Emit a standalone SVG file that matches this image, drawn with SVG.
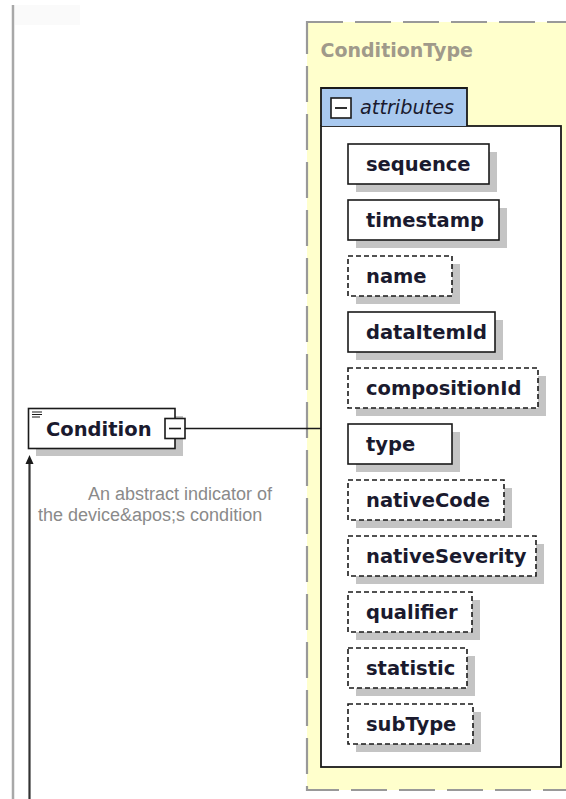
<svg xmlns="http://www.w3.org/2000/svg" width="566" height="799" viewBox="0 0 566 799">
<style>
.shadow{fill:#c4c4c4}
.box{fill:#fff;stroke:#1a1a1a;stroke-width:1.6}
.opt{fill:#fff;stroke:#1a1a1a;stroke-width:1.6;stroke-dasharray:5 3}
.lbl{font-family:"DejaVu Sans",Verdana,sans-serif;font-weight:bold;font-size:19.5px;fill:#1a1a2e}
.desc{font-family:"Liberation Sans",Arial,sans-serif;font-size:18px;fill:#8a8a8a}
</style>
<rect width="566" height="799" fill="#fff"/>
<rect x="15" y="5" width="65" height="20" fill="#fafafa"/>
<line x1="13" y1="5" x2="13" y2="799" stroke="#a8a8a8" stroke-width="2.5"/>

<g id="ConditionType">
<rect x="307" y="22" width="280" height="768" fill="#ffffcc" stroke="#999" stroke-width="2.2" stroke-dasharray="36 12"/>
<text x="320.5" y="57" font-family="'DejaVu Sans',Verdana,sans-serif" font-weight="bold" font-size="19px" fill="#a09a8a">ConditionType</text>
</g>

<g id="attributes">
<rect x="321" y="126" width="240" height="641" fill="#fff" stroke="#1a1a1a" stroke-width="1.8"/>
<path d="M321 126 V88 H467 V126" fill="#a9c9ef" stroke="#1a1a1a" stroke-width="1.8"/>
<rect x="331" y="98" width="20" height="20" fill="#fff" stroke="#1a1a1a" stroke-width="1.6"/>
<line x1="335" y1="108" x2="347" y2="108" stroke="#1a1a1a" stroke-width="1.8"/>
<text x="360" y="114" font-family="'DejaVu Sans',Verdana,sans-serif" font-style="italic" font-size="19.3px" fill="#1a1a2e">attributes</text>
</g>

<g id="sequence"><rect class="shadow" x="356" y="152" width="141" height="40"/><rect class="box" x="348" y="144" width="141" height="40"/><text class="lbl" x="366" y="171">sequence</text></g>
<g id="timestamp"><rect class="shadow" x="356" y="208" width="151" height="40"/><rect class="box" x="348" y="200" width="151" height="40"/><text class="lbl" x="366" y="227">timestamp</text></g>
<g id="name"><rect class="shadow" x="356" y="264" width="104" height="40"/><rect class="opt" x="348" y="256" width="104" height="40"/><text class="lbl" x="366" y="283">name</text></g>
<g id="dataItemId"><rect class="shadow" x="356" y="320" width="147" height="40"/><rect class="box" x="348" y="312" width="147" height="40"/><text class="lbl" x="366" y="339">dataItemId</text></g>
<g id="compositionId"><rect class="shadow" x="356" y="376" width="190" height="40"/><rect class="opt" x="348" y="368" width="190" height="40"/><text class="lbl" x="366" y="395">compositionId</text></g>
<g id="type"><rect class="shadow" x="356" y="432" width="104" height="40"/><rect class="box" x="348" y="424" width="104" height="40"/><text class="lbl" x="366" y="451">type</text></g>
<g id="nativeCode"><rect class="shadow" x="356" y="488" width="156" height="40"/><rect class="opt" x="348" y="480" width="156" height="40"/><text class="lbl" x="366" y="507">nativeCode</text></g>
<g id="nativeSeverity"><rect class="shadow" x="356" y="544" width="188" height="40"/><rect class="opt" x="348" y="536" width="188" height="40"/><text class="lbl" x="366" y="563">nativeSeverity</text></g>
<g id="qualifier"><rect class="shadow" x="356" y="600" width="124" height="40"/><rect class="opt" x="348" y="592" width="124" height="40"/><text class="lbl" x="366" y="619">qualifier</text></g>
<g id="statistic"><rect class="shadow" x="356" y="656" width="119" height="40"/><rect class="opt" x="348" y="648" width="119" height="40"/><text class="lbl" x="366" y="675">statistic</text></g>
<g id="subType"><rect class="shadow" x="356" y="712" width="125" height="40"/><rect class="opt" x="348" y="704" width="125" height="40"/><text class="lbl" x="366" y="731">subType</text></g>

<g id="connectors">
<line x1="185" y1="428.5" x2="321" y2="428.5" stroke="#1a1a1a" stroke-width="1.6"/>
<line x1="29.5" y1="462" x2="29.5" y2="799" stroke="#333" stroke-width="2.2"/>
<path d="M29.5 455 L33.5 464 L25.5 464 Z" fill="#1a1a1a"/>
</g>

<g id="Condition">
<rect class="shadow" x="36" y="416" width="147" height="40"/>
<rect class="box" x="28.5" y="408.5" width="146.5" height="40" stroke-width="1.8"/>
<path d="M32 412 H42 M32 414.5 H42 M32 417 H40" stroke="#1a1a1a" stroke-width="1.2"/>
<text class="lbl" x="46" y="436" font-size="19.3px">Condition</text>
<rect x="165" y="418.5" width="20" height="20" fill="#fff" stroke="#1a1a1a" stroke-width="1.6"/>
<line x1="169" y1="428.5" x2="181" y2="428.5" stroke="#1a1a1a" stroke-width="1.6"/>
<text class="desc" x="88" y="500">An abstract indicator of</text>
<text class="desc" x="38" y="521">the device&amp;apos;s condition</text>
</g>
</svg>
